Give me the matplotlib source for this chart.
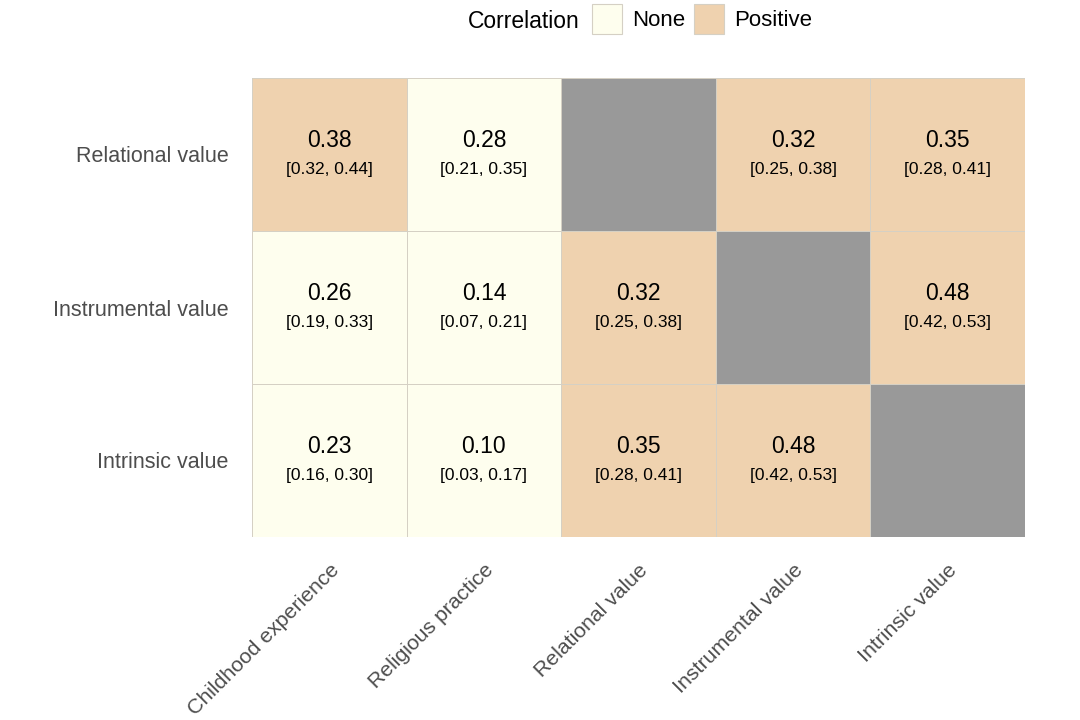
import numpy as np
import matplotlib.pyplot as plt
from matplotlib.colors import ListedColormap
from matplotlib.patches import Rectangle

plt.rcParams['font.family'] = ['Liberation Sans', 'DejaVu Sans']

rows = ['Relational value', 'Instrumental value', 'Intrinsic value']
cols = ['Childhood experience', 'Religious practice', 'Relational value',
        'Instrumental value', 'Intrinsic value']

r = np.array([
    [0.38, 0.28, np.nan, 0.32, 0.35],
    [0.26, 0.14, 0.32, np.nan, 0.48],
    [0.23, 0.10, 0.35, 0.48, np.nan],
])
lo = np.array([
    [0.32, 0.21, np.nan, 0.25, 0.28],
    [0.19, 0.07, 0.25, np.nan, 0.42],
    [0.16, 0.03, 0.28, 0.42, np.nan],
])
hi = np.array([
    [0.44, 0.35, np.nan, 0.38, 0.41],
    [0.33, 0.21, 0.38, np.nan, 0.53],
    [0.30, 0.17, 0.41, 0.53, np.nan],
])
# 0 = None, 1 = Positive
corr_type = np.array([
    [1, 0, np.nan, 1, 1],
    [0, 0, 1, np.nan, 1],
    [0, 0, 1, 1, np.nan],
])

levels = ['None', 'Positive']
colors = {'None': '#FEFEEE', 'Positive': '#EFD2AF'}

cmap = ListedColormap([colors[l] for l in levels])
cmap.set_bad('#999999')

fig = plt.figure(figsize=(10.8, 7.2), dpi=100)
ax = fig.add_axes([252 / 1080, 1 - 537 / 720, 773 / 1080, 459 / 720])

nr, nc = r.shape
ax.pcolormesh(np.arange(nc + 1), np.arange(nr + 1),
              np.ma.masked_invalid(corr_type), cmap=cmap, vmin=-0.5, vmax=1.5,
              edgecolors='#D5D0C4', linewidth=0.5)
ax.set_xlim(0, nc)
ax.set_ylim(nr, 0)

for i in range(nr):
    for j in range(nc):
        if np.isnan(r[i, j]):
            continue
        ax.text(j + 0.5, i + 0.41, f'{r[i, j]:.2f}', ha='center', va='center',
                fontsize=16.5, color='black')
        ax.text(j + 0.5, i + 0.595, f'[{lo[i, j]:.2f}, {hi[i, j]:.2f}]',
                ha='center', va='center', fontsize=12.5, color='black')

ax.set_xticks(np.arange(nc) + 0.5)
ax.set_xticklabels(cols, rotation=45, ha='right', va='top',
                   rotation_mode='anchor', fontsize=15.3, color='#4D4D4D')
ax.set_yticks(np.arange(nr) + 0.5)
ax.set_yticklabels(rows, fontsize=15.5, color='#4D4D4D')
ax.tick_params(length=0)
ax.tick_params(axis='y', pad=17)
ax.tick_params(axis='x', pad=17)
for s in ax.spines.values():
    s.set_visible(False)

# legend on top
fig.text(468 / 1080, 1 - 21 / 720, 'Correlation', ha='left', va='center',
         fontsize=16.5, color='black')
for x0, lab in zip([592, 694], levels):
    fig.patches.append(Rectangle((x0 / 1080, 1 - 34 / 720), 30 / 1080, 30 / 720,
                                 transform=fig.transFigure, facecolor=colors[lab],
                                 edgecolor='#D5D0C4', linewidth=0.8))
    fig.text((x0 + 40) / 1080, 1 - 21 / 720, lab, ha='left', va='center',
             fontsize=16, color='black')

fig.savefig('out.png', dpi=100)
